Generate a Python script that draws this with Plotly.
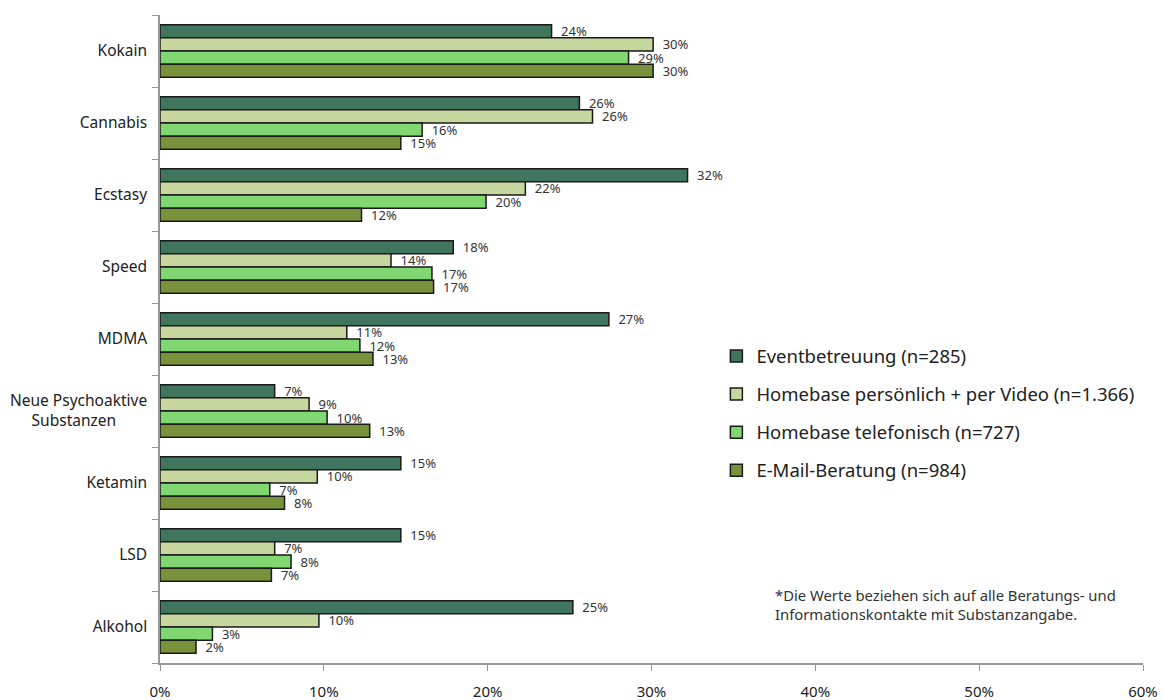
import plotly.graph_objects as go

categories = ["Kokain", "Cannabis", "Ecstasy", "Speed", "MDMA",
              "Neue Psychoaktive Substanzen", "Ketamin", "LSD", "Alkohol"]
category_labels = ["Kokain", "Cannabis", "Ecstasy", "Speed", "MDMA",
                   "Neue Psychoaktive<br>Substanzen\u2003\u2003\u200b", "Ketamin", "LSD", "Alkohol"]

series_names = ["Eventbetreuung (n=285)",
                "Homebase persönlich + per Video (n=1.366)",
                "Homebase telefonisch (n=727)",
                "E-Mail-Beratung (n=984)"]

eventbetreuung = [23.9, 25.6, 32.2, 17.9, 27.4, 7.0, 14.7, 14.7, 25.2]
homebase_persoenlich = [30.1, 26.4, 22.3, 14.1, 11.4, 9.1, 9.6, 7.0, 9.7]
homebase_telefonisch = [28.6, 16.0, 19.9, 16.6, 12.2, 10.2, 6.7, 8.0, 3.2]
email_beratung = [30.1, 14.7, 12.3, 16.7, 13.0, 12.8, 7.6, 6.8, 2.2]

series_values = [eventbetreuung, homebase_persoenlich, homebase_telefonisch, email_beratung]
colors = ["#40755E", "#C6D89E", "#81D873", "#77923A"]

x_ticks = [0, 10, 20, 30, 40, 50, 60]
x_tick_labels = ["0%", "10%", "20%", "30%", "40%", "50%", "60%"]
footnote = "*Die Werte beziehen sich auf alle Beratungs- und<br>Informationskontakte mit Substanzangabe."

FONT = "Noto Sans"

fig = go.Figure()
for i, (name, vals, col) in enumerate(zip(series_names, series_values, colors)):
    fig.add_trace(go.Bar(
        y=categories, x=vals, name=name, orientation="h",
        marker=dict(color=col, line=dict(color="#1a1a1a", width=1.5)),
        texttemplate="\u2002%{x:.0f}%", textposition="outside",
        outsidetextfont=dict(size=13, color="#333333", family=FONT),
        textfont=dict(size=13, color="#333333", family=FONT),
        constraintext="none",
        cliponaxis=False, legendgroup=f"g{i}",
    ))

fig.update_layout(
    width=1163, height=700,
    margin=dict(l=160, r=20, t=15, b=37),
    barmode="group", bargap=0.27, bargroupgap=0,
    plot_bgcolor="white", paper_bgcolor="white",
    font=dict(family=FONT, color="#222222"),
    uniformtext=dict(mode=False),
    legend=dict(x=0.566, y=0.385, xanchor="left", yanchor="middle",
                font=dict(size=18.5, color="#222222", family=FONT),
                tracegroupgap=11, bgcolor="rgba(0,0,0,0)"),
    annotations=[dict(text=footnote, x=0.624, y=0.091, xref="paper", yref="paper",
                      xanchor="left", yanchor="middle", align="left", showarrow=False,
                      font=dict(size=14.8, color="#333333", family=FONT))],
)

fig.update_xaxes(range=[0, 60], tickvals=x_ticks, ticktext=x_tick_labels,
                 showgrid=False, zeroline=False, automargin=False,
                 showline=True, linecolor="#999999", linewidth=1.5,
                 ticks="outside", ticklen=6, tickcolor="#999999",
                 ticklabelstandoff=8,
                 tickfont=dict(size=15, color="#222222", family=FONT))
fig.update_yaxes(autorange="reversed", showgrid=False, automargin=False,
                 tickvals=categories, ticktext=category_labels,
                 showline=True, linecolor="#999999", linewidth=1.5,
                 ticks="outside", ticklen=6, tickcolor="#999999", tickson="boundaries",
                 ticklabelstandoff=8,
                 tickfont=dict(size=15.5, color="#222222", family=FONT))

fig.write_html("out.html")
